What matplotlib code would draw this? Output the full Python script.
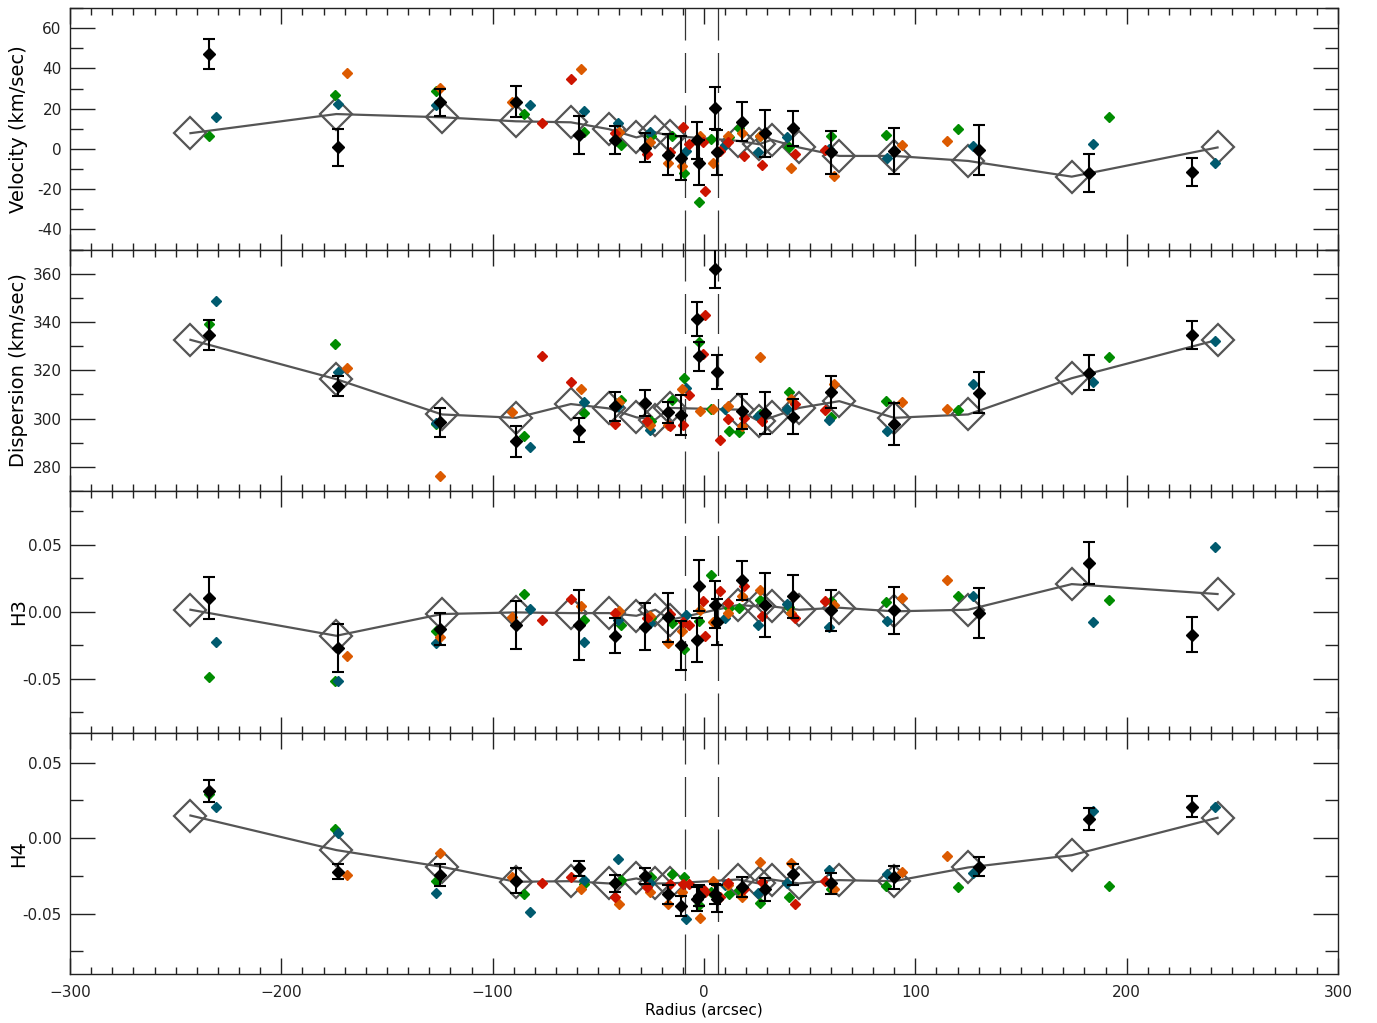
import numpy as np
import matplotlib
matplotlib.use("Agg")
import matplotlib.pyplot as plt
from matplotlib.ticker import MultipleLocator, FormatStrFormatter

# ---- binned (open diamond) profile ----
bin_r = [-243, -174, -124, -89, -63, -45, -32, -23, -16, 16, 26, 32, 45, 64, 90, 125, 174, 243]
bin_vel = [7.8, 17.3, 15.7, 13.7, 13.2, 9.8, 5.7, 8.2, 6.5, 4.0, 2.3, 4.5, 0.7, -3.5, -3.5, -6.0, -13.8, 0.7]
bin_disp = [332.6, 316.3, 301.7, 300.3, 306.0, 304.2, 300.5, 299.6, 304.4, 303.7, 298.9, 300.5,
            304.4, 307.2, 300.3, 301.7, 316.7, 332.6]
bin_h3 = [0.0015, -0.0179, -0.0017, -0.0005, -0.001, -0.001, -0.003, 0.0015, -0.006, 0.005, 0.004,
          0.004, 0.0015, 0.003, 0.0003, 0.0015, 0.0206, 0.0132]
bin_h4 = [0.015, -0.0079, -0.019, -0.0289, -0.0285, -0.030, -0.0267, -0.030, -0.030, -0.0274, -0.030,
          -0.0274, -0.030, -0.0278, -0.0285, -0.0194, -0.0113, 0.0135]

# ---- black points with errors ----
blk_r = [-234, -173, -125, -89, -59, -42, -28, -17, -11, -3.5, -2.5, 5, 6, 18, 29, 42, 60, 90, 130, 182, 231]
blk_vel = [47.3, 0.7, 23.2, 23.5, 6.8, 4.3, 0.5, -2.8, -4.5, 4.3, -6.8, 20.3, -1.8, 13.5, 7.7, 10.2,
           -1.8, -1.0, -0.7, -11.8, -11.3]
blk_vel_err = [7.5, 9, 6.7, 7.7, 9.3, 7, 7.2, 10, 11, 9.3, 11, 10.3, 11, 9.8, 11.7, 8.8, 10.5, 11.5, 12.5, 9.5, 7]
blk_disp = [334.6, 313.5, 298.5, 290.5, 295.4, 305.1, 306.5, 302.6, 301.4, 341.1, 325.7, 362.1, 319.3,
            303.0, 302.4, 300.7, 311.0, 297.8, 310.7, 319.0, 334.7]
blk_disp_err = [6.3, 4.2, 6, 6.3, 5, 6, 5.5, 4.3, 8.3, 7, 6, 8, 7, 7.3, 8.8, 7.2, 6.5, 8.7, 8.6, 7.2, 5.8]
blk_h3 = [0.0102, -0.0271, -0.0129, -0.0097, -0.0097, -0.0179, -0.011, -0.0042, -0.0251, -0.0209, 0.0194,
          0.0052, -0.0077, 0.0234, 0.0052, 0.0114, 0.001, 0.001, -0.001, 0.0363, -0.0172]
blk_h3_err = [0.0157, 0.0177, 0.012, 0.0178, 0.026, 0.013, 0.0178, 0.018, 0.0185, 0.0166, 0.019,
              0.0174, 0.017, 0.0143, 0.024, 0.0158, 0.015, 0.0178, 0.0187, 0.0154, 0.013]
blk_h4 = [0.0313, -0.0223, -0.0245, -0.0283, -0.0201, -0.030, -0.025, -0.0373, -0.045, -0.0402, -0.038,
          -0.0371, -0.040, -0.0322, -0.034, -0.024, -0.030, -0.026, -0.019, 0.0126, 0.0208]
blk_h4_err = [0.0075, 0.005, 0.0073, 0.0083, 0.005, 0.0058, 0.0054, 0.006, 0.0066, 0.008, 0.007,
              0.0066, 0.0088, 0.0066, 0.0078, 0.0069, 0.007, 0.0078, 0.0064, 0.0074, 0.0069]

# ---- individual slit measurements ----
grn_r = [-234, -174.5, -127, -85, -57, -39.5, -25, -15.3, -9.5, -2.2, 3.2, 12, 16.7, 26.5, 40, 60, 86, 120, 191.6]
grn_vel = [6.5, 27, 28.7, 17.3, 8.2, 2, 6.5, 6.5, -11.8, -26.5, 4.8, 6, 10.3, 6.5, 0.7, 6.5, 7, 9.8, 16]
grn_disp = [339.2, 330.8, 297.9, 292.9, 302.1, 307.5, 299, 307.5, 316.7, 331.5, 303.8, 294.7, 294.5,
            302, 311, 300.7, 307.4, 303.5, 325.3]
grn_h3 = [-0.0483, -0.0513, -0.0142, 0.013, -0.0065, -0.0102, -0.0047, -0.0082, -0.0276, -0.0072,
          0.0276, 0.003, 0.0027, 0.009, 0.0032, 0.0077, 0.0072, 0.0119, 0.009]
grn_h4 = [0.0291, 0.0058, -0.0285, -0.0373, -0.0305, -0.028, -0.0256, -0.0238, -0.0256, -0.0444,
          -0.036, -0.0373, -0.0344, -0.0428, -0.039, -0.034, -0.032, -0.0322, -0.0316]

teal_r = [-231, -173, -127, -82.3, -57, -40.5, -25.6, -8.5, 10, 25.7, 39.4, 59, 86.4, 127.1, 183.9, 241.8]
teal_vel = [15.7, 22.3, 22, 22, 19, 12.7, 8.2, -1, 2, -1.8, 5.7, 0, -4.3, 1.5, 2.3, -7.2]
teal_disp = [348.6, 319.3, 298, 288.2, 307, 305, 295.4, 312.8, 304, 301.2, 303.75, 299.4, 294.7,
             314.2, 315.3, 332]
teal_h3 = [-0.0222, -0.0513, -0.0234, 0.0022, -0.0229, -0.006, -0.0082, -0.0022, -0.0047, -0.0097,
           0.006, -0.0117, -0.0067, 0.0119, -0.008, 0.0483]
teal_h4 = [0.0207, 0.0035, -0.0366, -0.0492, -0.0278, -0.0141, -0.03, -0.0538, -0.031, -0.0362,
           -0.0296, -0.0212, -0.0238, -0.023, 0.0179, 0.0207]

orng_r = [-169, -125, -91, -58.3, -40, -25.6, -16.9, -10.6, -1.9, 4.1, 11.5, 18, 26.5, 41, 61.7, 93.5, 114.8]
orng_vel = [37.8, 30.3, 23.2, 39.5, 8.2, 3.2, -6.8, -8.5, 6.5, -6.8, 6.5, 8, 6.5, -9.3, -13.5, 2, 4]
orng_disp = [321.1, 276.3, 302.6, 312.4, 307, 297.5, 297.5, 312.1, 303, 304, 305.1, 297, 325.6, 308.2,
             314.2, 307, 304]
orng_h3 = [-0.0328, -0.0189, -0.0042, 0.004, 0.0005, -0.003, -0.0234, -0.0147, 0.0015, -0.008, -0.001,
           0.012, 0.0159, -0.001, 0.0052, 0.0102, 0.0234]
orng_h4 = [-0.0245, -0.0101, -0.0256, -0.034, -0.0433, -0.0355, -0.0433, -0.036, -0.0528, -0.0283,
           -0.031, -0.039, -0.0157, -0.0163, -0.034, -0.0223, -0.0119]

red_r = [-76.5, -63, -42, -27, -16, -10.1, -7, -0.3, 0.5, 7.6, 11.5, 18.9, 27.3, 43, 57.3]
red_vel = [12.8, 34.5, 8, -2.7, -1.8, 10.7, 2.3, 3.2, -21, -1, 3.2, -3.5, -8.2, -2.7, -0.5]
red_disp = [325.7, 315.1, 297.9, 298.9, 296.8, 297.5, 309.7, 326.7, 343, 291.3, 299.8, 300.1, 298.9,
            306.1, 303.5]
red_h3 = [-0.006, 0.0095, -0.001, -0.0047, -0.0017, -0.008, -0.0097, 0.0077, -0.0184, 0.0152, 0.0065,
          0.0194, -0.003, -0.0047, 0.0077]
red_h4 = [-0.03, -0.0256, -0.0389, -0.0322, -0.0302, -0.0307, -0.0307, -0.034, -0.036, -0.039, -0.0296,
          -0.034, -0.0289, -0.0433, -0.0283]

# central region markers
dash_x = [-9.0, 6.5]

GREEN = "#008c00"
TEAL = "#005a6e"
ORANGE = "#dc5a00"
RED = "#cd1400"
GREY = "#555555"

panels = [
    dict(ylabel="Velocity (km/sec)", ylim=(-50, 70), major=20, minor=10, fmt="%d",
         bins=bin_vel, blk=blk_vel, err=blk_vel_err,
         cols=[(grn_r, grn_vel, GREEN), (teal_r, teal_vel, TEAL), (orng_r, orng_vel, ORANGE), (red_r, red_vel, RED)]),
    dict(ylabel="Dispersion (km/sec)", ylim=(270, 370), major=20, minor=10, fmt="%d",
         bins=bin_disp, blk=blk_disp, err=blk_disp_err,
         cols=[(grn_r, grn_disp, GREEN), (teal_r, teal_disp, TEAL), (orng_r, orng_disp, ORANGE), (red_r, red_disp, RED)]),
    dict(ylabel="H3", ylim=(-0.09, 0.09), major=0.05, minor=0.025, fmt="%.2f",
         bins=bin_h3, blk=blk_h3, err=blk_h3_err,
         cols=[(grn_r, grn_h3, GREEN), (teal_r, teal_h3, TEAL), (orng_r, orng_h3, ORANGE), (red_r, red_h3, RED)]),
    dict(ylabel="H4", ylim=(-0.09, 0.07), major=0.05, minor=0.025, fmt="%.2f",
         bins=bin_h4, blk=blk_h4, err=blk_h4_err,
         cols=[(grn_r, grn_h4, GREEN), (teal_r, teal_h4, TEAL), (orng_r, orng_h4, ORANGE), (red_r, red_h4, RED)]),
]

plt.rcParams["font.family"] = ["DejaVu Sans"]
plt.rcParams["axes.unicode_minus"] = True

W, H = 1377, 1023
fig = plt.figure(figsize=(W / 100, H / 100), dpi=100)

left = 70 / W
width = 1268 / W
top_px = 8
panel_h = 241.5

for i, p in enumerate(panels):
    y0 = H - (top_px + (i + 1) * panel_h)
    ax = fig.add_axes([left, y0 / H, width, panel_h / H])
    ax.set_xlim(-300, 300)
    ax.set_ylim(*p["ylim"])

    for dx in dash_x:
        ax.axvline(dx, color="#333333", lw=0.9, dashes=(32, 10), zorder=1)

    ax.plot(bin_r, p["bins"], color=GREY, lw=1.6, zorder=2)
    ax.plot(bin_r, p["bins"], ls="none", marker="D", ms=16.5, mfc="none", mec=GREY, mew=1.6, zorder=2)

    for r, v, c in p["cols"]:
        ax.plot(r, v, ls="none", marker="D", ms=5.2, color=c, mec=c, zorder=3)

    ax.errorbar(blk_r, p["blk"], yerr=p["err"], fmt="D", ms=6.5, color="black", ecolor="black",
                elinewidth=1.5, capsize=4.5, capthick=1.5, zorder=4)

    ax.xaxis.set_major_locator(MultipleLocator(100))
    ax.xaxis.set_minor_locator(MultipleLocator(10))
    ax.yaxis.set_major_locator(MultipleLocator(p["major"]))
    ax.yaxis.set_minor_locator(MultipleLocator(p["minor"]))
    ax.yaxis.set_major_formatter(FormatStrFormatter(p["fmt"]))

    ax.tick_params(axis="x", which="both", direction="in", top=True, bottom=True, colors="#222222",
                   labelsize=11, pad=8)
    ax.tick_params(axis="x", which="major", length=11.5, width=1.0)
    ax.tick_params(axis="x", which="minor", length=5, width=1.0)
    ax.tick_params(axis="y", which="both", direction="in", left=True, right=True, colors="#222222",
                   labelsize=11, pad=6)
    ax.tick_params(axis="y", which="major", length=18, width=1.0)
    ax.tick_params(axis="y", which="minor", length=9.5, width=1.0)
    for s in ax.spines.values():
        s.set_color("#222222")
        s.set_linewidth(1.0)

    ax.set_ylabel(p["ylabel"], fontsize=14)
    ax.yaxis.set_label_coords(-0.033, 0.5)

    if i < len(panels) - 1:
        ax.tick_params(axis="x", labelbottom=False)
    else:
        ax.set_xlabel("Radius (arcsec)", fontsize=11, labelpad=2)

fig.savefig("out.png", dpi=100)
